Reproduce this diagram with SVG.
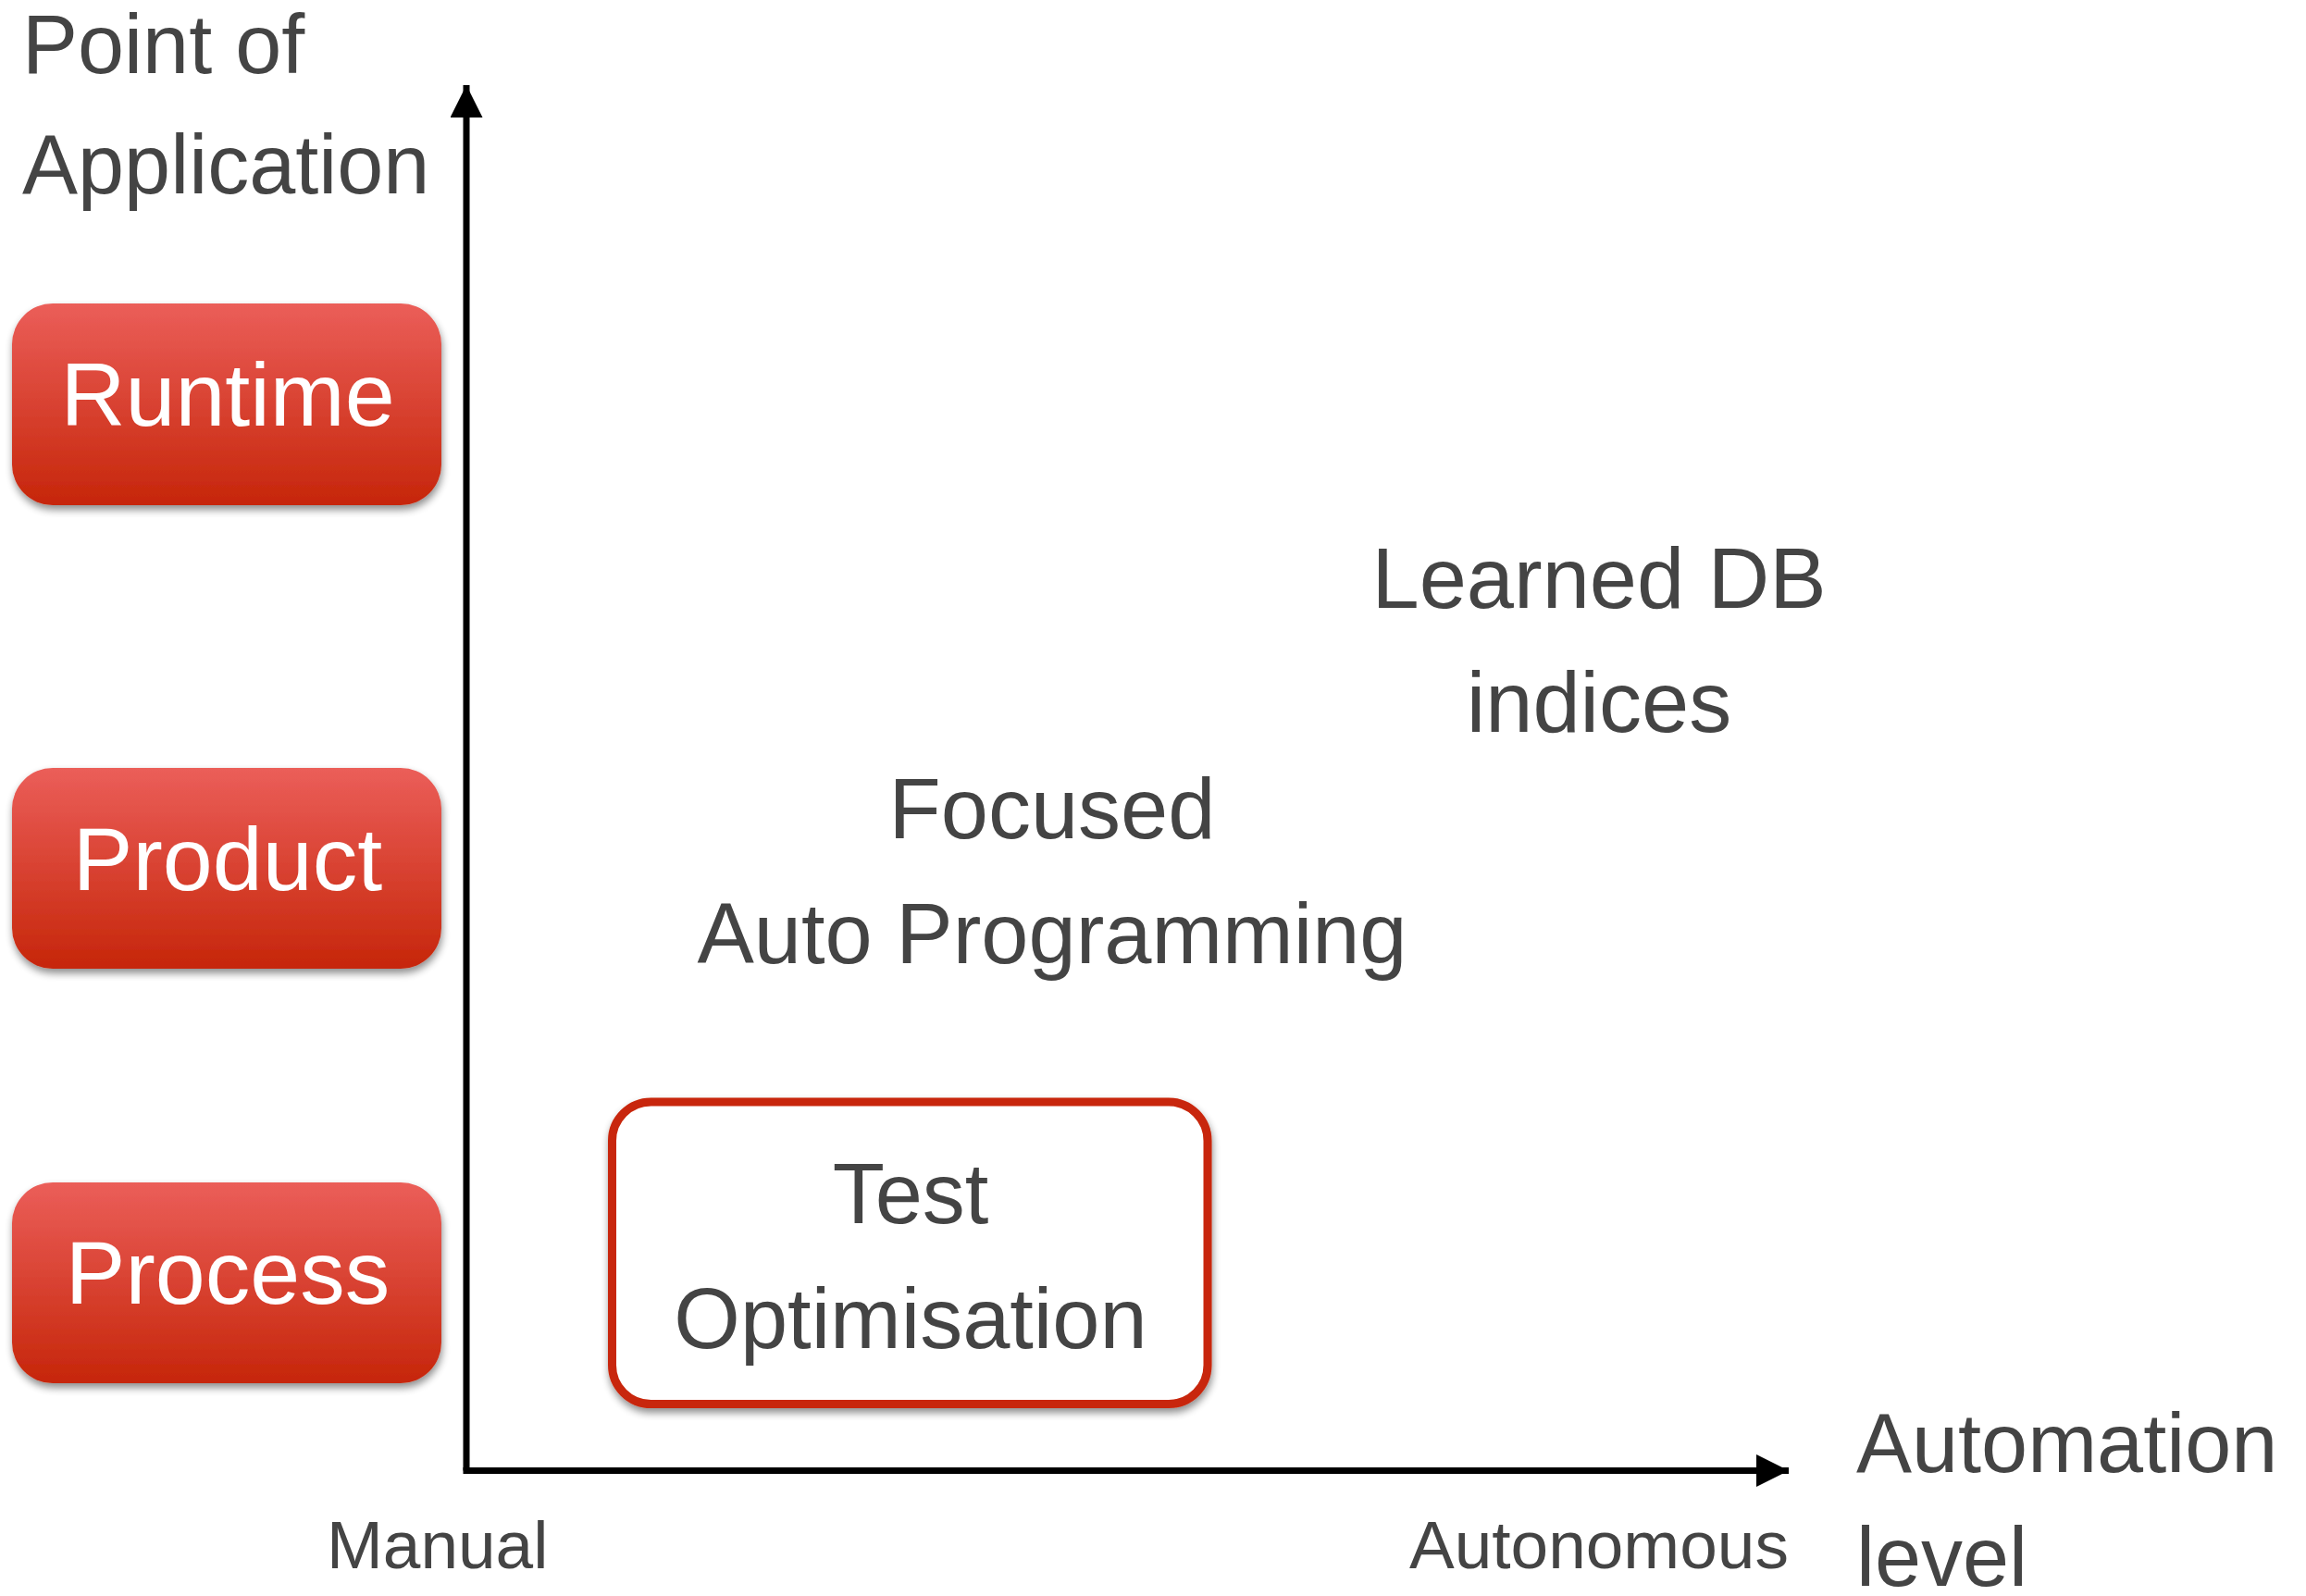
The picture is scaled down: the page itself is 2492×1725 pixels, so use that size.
<svg xmlns="http://www.w3.org/2000/svg" width="2492" height="1725" viewBox="0 0 2492 1725">
  <style>
    .t { font-family: "Liberation Sans", Arial, Helvetica, sans-serif; fill: #444444; }
    .w { font-family: "Liberation Sans", Arial, Helvetica, sans-serif; fill: #ffffff; font-size: 97px; text-anchor: middle; }
    .big { font-size: 92px; }
    .ax { font-size: 90px; }
    .sm { font-size: 73px; }
    .mid { text-anchor: middle; }
    .axis { stroke: #000; stroke-width: 7; fill: none; }
    .redbox { fill: url(#redGrad); filter: url(#shadow); }
    .outline { fill: #ffffff; stroke: #C8260A; stroke-width: 9; filter: url(#shadow); }
  </style>
  <defs>
    <linearGradient id="redGrad" x1="0" y1="0" x2="0" y2="1">
      <stop offset="0" stop-color="#EB5E59"/>
      <stop offset="1" stop-color="#C6260A"/>
    </linearGradient>
    <filter id="shadow" x="-10%" y="-10%" width="120%" height="130%">
      <feGaussianBlur in="SourceAlpha" stdDeviation="4"/>
      <feOffset dx="1" dy="5" result="b"/>
      <feComponentTransfer><feFuncA type="linear" slope="0.45"/></feComponentTransfer>
      <feMerge><feMergeNode/><feMergeNode in="SourceGraphic"/></feMerge>
    </filter>
    <marker id="arrow" markerUnits="userSpaceOnUse" markerWidth="36" markerHeight="36" refX="35" refY="17.5" orient="auto">
      <path d="M0,0 L35,17.5 L0,35 Z" fill="#000"/>
    </marker>
  </defs>

  <rect width="2492" height="1725" fill="#ffffff"/>

  <g id="connectors">
    <path class="axis" d="M504,1589.5 L504,92" marker-end="url(#arrow)"/>
    <path class="axis" d="M500.5,1589.5 L1933,1589.5" marker-end="url(#arrow)"/>
  </g>

  <g id="y-axis-title">
    <text class="t ax" x="24" y="79">Point of</text>
    <text class="t ax" x="24" y="209">Application</text>
  </g>

  <g id="runtime">
    <rect class="redbox" x="13" y="328" width="464" height="218" rx="44" ry="44"/>
    <text class="w" x="246" y="460">Runtime</text>
  </g>

  <g id="product">
    <rect class="redbox" x="13" y="830" width="464" height="217" rx="44" ry="44"/>
    <text class="w" x="246" y="962">Product</text>
  </g>

  <g id="process">
    <rect class="redbox" x="13" y="1278" width="464" height="217" rx="44" ry="44"/>
    <text class="w" x="246" y="1409">Process</text>
  </g>

  <g id="test-optimisation">
    <rect class="outline" x="661.5" y="1191" width="643.5" height="326.5" rx="42" ry="42"/>
    <text class="t big mid" x="984" y="1322">Test</text>
    <text class="t big mid" x="984" y="1457">Optimisation</text>
  </g>

  <g id="focused-auto-programming">
    <text class="t big mid" x="1137" y="906">Focused</text>
    <text class="t big mid" x="1137" y="1041">Auto Programming</text>
  </g>

  <g id="learned-db-indices">
    <text class="t big mid" x="1728" y="657">Learned DB</text>
    <text class="t big mid" x="1728" y="791">indices</text>
  </g>

  <g id="x-axis-labels">
    <text class="t sm" x="353" y="1695">Manual</text>
    <text class="t sm" x="1523" y="1695">Autonomous</text>
    <text class="t ax" x="2006" y="1591">Automation</text>
    <text class="t ax" x="2006" y="1714">level</text>
  </g>
</svg>
